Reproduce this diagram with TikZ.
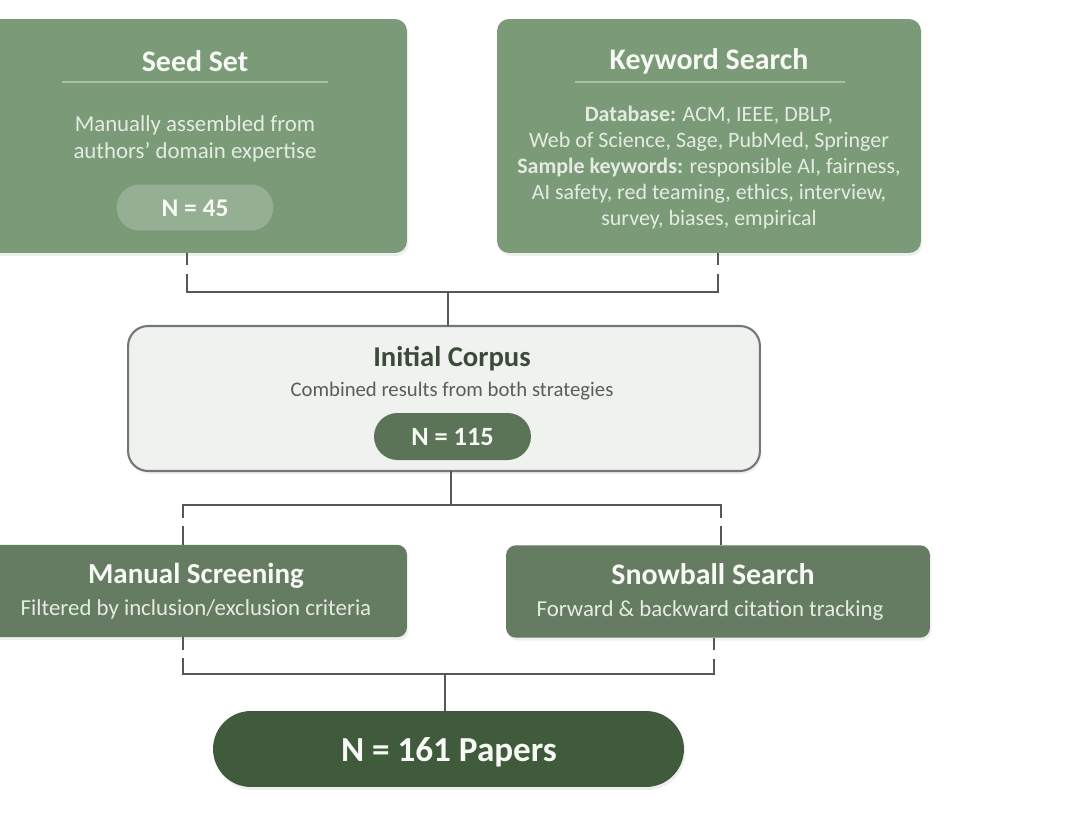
\documentclass[tikz,border=0pt]{standalone}
\usepackage{fontspec}
\setmainfont{Carlito}
\usetikzlibrary{shadows}
\definecolor{topgreen}{HTML}{7B9B78}
\definecolor{pillgreen}{HTML}{95AF92}
\definecolor{midgreen}{HTML}{667C62}
\definecolor{corpusfill}{HTML}{EFF2EE}
\definecolor{corpusborder}{HTML}{747874}
\definecolor{corpuspill}{HTML}{5B7458}
\definecolor{finalgreen}{HTML}{405B3B}
\definecolor{darktitle}{HTML}{3C4A3A}
\definecolor{graytext}{HTML}{5A5E5A}
\definecolor{lighttext}{HTML}{E4ECE2}
\definecolor{titlewhite}{HTML}{F6F9F4}
\definecolor{connector}{HTML}{555855}
\definecolor{seprule}{HTML}{A9BEA7}
\begin{document}
\begin{tikzpicture}[x=0.02cm,y=-0.02cm,
  every node/.style={inner sep=0pt, outer sep=0pt},
  shadowed/.style={drop shadow={opacity=0.12, shadow xshift=0.03cm, shadow yshift=-0.06cm}},
  topbox/.style={shadowed, fill=topgreen, rounded corners=0.24cm, minimum width=8.48cm, minimum height=4.68cm},
  midbox/.style={shadowed, fill=midgreen, rounded corners=0.2cm, minimum width=8.48cm, minimum height=1.85cm},
  corpusbox/.style={shadowed, fill=corpusfill, draw=corpusborder, line width=1.2pt, rounded corners=0.4cm, minimum width=12.64cm, minimum height=2.9cm},
  finalbox/.style={shadowed, fill=finalgreen, rounded corners=0.76cm, minimum width=9.42cm, minimum height=1.52cm},
  pill/.style={rounded corners=0.45cm, minimum width=3.13cm, minimum height=0.92cm},
  bigtitle/.style={font={\fontsize{17}{20}\selectfont\bfseries}, text=titlewhite},
  midtitle/.style={font={\fontsize{16.5}{19}\selectfont\bfseries}, text=titlewhite},
  bodytext/.style={font={\fontsize{12.5}{14.9}\selectfont}, text=lighttext, align=center},
  pilltext/.style={font={\fontsize{14.5}{17}\selectfont\bfseries}, text=titlewhite},
  conn/.style={draw=connector, line width=1.4pt},
  gapline/.style={conn, dash pattern=on 0.25cm off 0.17cm on 1cm off 0.02cm},
  seprulestyle/.style={draw=seprule, line width=0.6pt}
]
\useasboundingbox (0,0) rectangle (1080,829);
\fill[white] (0,0) rectangle (1080,829);

% ---- Seed Set ----
\node[topbox] (seed) at (195,136) {};
\node[bigtitle] (seedtitle) at (195,61) {Seed Set};
\draw[seprulestyle] (62,82) -- (328,82);
\node[bodytext, font={\fontsize{13}{15.3}\selectfont}] (seedtext) at (195,139) {Manually assembled from\\authors' domain expertise};
\node[pill, fill=pillgreen] (seedpill) at (195,207.5) {};
\node[pilltext] (seedn) at (195,208) {N = 45};

% ---- Keyword Search ----
\node[topbox] (kw) at (709,136) {};
\node[bigtitle] (kwtitle) at (709,61) {Keyword Search};
\draw[seprulestyle] (575,82) -- (845,82);
\node[bodytext] (kwtext) at (709,167.5) {\textbf{Database:} ACM, IEEE, DBLP,\\Web of Science, Sage, PubMed, Springer\\\textbf{Sample keywords:} responsible AI, fairness,\\AI safety, red teaming, ethics, interview,\\survey, biases, empirical};

% ---- Initial Corpus ----
\node[corpusbox] (corpus) at (444,398.5) {};
\node[font={\fontsize{16.3}{19}\selectfont\bfseries}, text=darktitle] (corpustitle) at (452,359) {Initial Corpus};
\node[font={\fontsize{11.8}{13.5}\selectfont}, text=graytext] (corpustext) at (452,391) {Combined results from both strategies};
\node[pill, fill=corpuspill, minimum height=0.94cm, minimum width=3.14cm, rounded corners=0.47cm] (corpuspill) at (452.5,436.5) {};
\node[pilltext, font={\fontsize{15}{17}\selectfont\bfseries}] (corpusn) at (452.5,437) {N = 115};

% ---- Manual Screening ----
\node[midbox] (manual) at (195,591) {};
\node[midtitle] (manualtitle) at (196,576) {Manual Screening};
\node[bodytext, font={\fontsize{13}{15}\selectfont}] (manualtext) at (196,609) {Filtered by inclusion/exclusion criteria};

% ---- Snowball Search ----
\node[midbox] (snow) at (718,591.5) {};
\node[midtitle, font={\fontsize{17}{20}\selectfont\bfseries}] (snowtitle) at (713,574) {Snowball Search};
\node[bodytext, font={\fontsize{13}{15}\selectfont}] (snowtext) at (710,611) {Forward \& backward citation tracking};

% ---- Final ----
\node[finalbox] (final) at (448.5,749) {};
\node[font={\fontsize{20}{23}\selectfont\bfseries}, text=titlewhite] (finaltext) at (449,752) {N = 161 Papers};

% ---- Connectors ----
\coordinate (j1) at (448,292);
\coordinate (j2) at (451,505);
\coordinate (j3) at (445,674);

% level 1
\draw[gapline] ([xshift=-0.16cm]seed.south) -- ([xshift=-0.16cm]seed.south |- j1);
\draw[gapline] ([xshift=0.18cm]kw.south) -- ([xshift=0.18cm]kw.south |- j1);
\draw[conn, line cap=rect] ([xshift=-0.16cm]seed.south |- j1) -- ([xshift=0.18cm]kw.south |- j1);
\draw[conn] (j1) -- (j1 |- corpus.north);

% level 2
\draw[conn] (j2 |- corpus.south) -- (j2);
\draw[conn, line cap=rect] ([xshift=-0.24cm]manual.north |- j2) -- ([xshift=0.06cm]snow.north |- j2);
\draw[gapline] ([xshift=-0.24cm]manual.north |- j2) -- ([xshift=-0.24cm]manual.north);
\draw[gapline] ([xshift=0.06cm]snow.north |- j2) -- ([xshift=0.06cm]snow.north);

% level 3
\draw[gapline] ([xshift=-0.24cm]manual.south) -- ([xshift=-0.24cm]manual.south |- j3);
\draw[gapline] ([xshift=-0.08cm]snow.south) -- ([xshift=-0.08cm]snow.south |- j3);
\draw[conn, line cap=rect] ([xshift=-0.24cm]manual.south |- j3) -- ([xshift=-0.08cm]snow.south |- j3);
\draw[conn] (j3) -- (j3 |- final.north);
\end{tikzpicture}
\end{document}
